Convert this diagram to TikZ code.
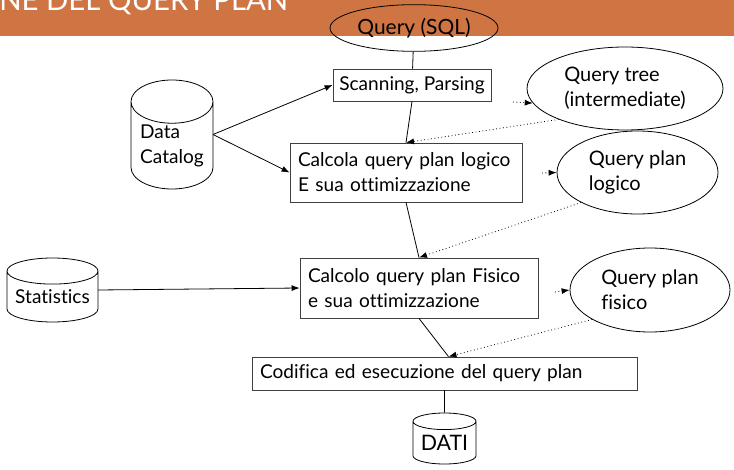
\documentclass[tikz,border=0pt]{standalone}
\usepackage{fontspec}
\setmainfont[Ligatures=NoCommon]{Lato}
\usepackage{tikz}
\usetikzlibrary{shapes.geometric}
\usetikzlibrary{arrows.meta}
\definecolor{bandcolor}{RGB}{207,116,67}
\definecolor{boxline}{RGB}{64,64,64}
\tikzset{stage/.style={draw=boxline,line width=0.6pt,inner xsep=6pt,inner ysep=0pt,minimum height=24pt,align=left},
         result/.style={draw,ellipse,line width=0.6pt,align=left,inner sep=0pt,font=\fontsize{15}{18.75}\selectfont},
         store/.style={draw,cylinder,shape border rotate=90,line width=0.6pt,inner sep=0pt,align=left},
         flow/.style={line width=0.6pt},
         feed/.style={line width=0.6pt,-{Latex[length=6pt,width=4.5pt]}},
         back/.style={dotted,line width=0.6pt,-{Latex[length=6pt,width=4.5pt]}}}

\begin{document}
\begin{tikzpicture}[x=0.75pt,y=-0.75pt,font=\fontsize{14.3}{18.75}\selectfont]
\useasboundingbox (0,0) rectangle (734,470);
\fill[bandcolor] (0,0) rectangle (734,36);
\begin{scope}
\clip (0,0) rectangle (734,470);
\node[anchor=base west,inner sep=0pt,text=white,font=\fontsize{22}{26}\selectfont] (title) at (-1,10.5) {NE DEL QUERY PLAN};
\end{scope}
\node[result,minimum width=126pt,minimum height=35pt,font=\fontsize{15.7}{18.75}\selectfont] (sql) at (414,28) {Query (SQL)};
\node[stage,minimum width=118.5pt,inner xsep=0pt] (scan) at (412,85) {Scanning, Parsing};
\node[stage,text width=162pt,minimum height=44.25pt] (logic) at (406,172.5) {Calcola query plan logico\\E sua ottimizzazione};
\node[stage,text width=166.5pt,minimum height=45pt] (phys) at (419,288) {Calcolo query plan Fisico\\e sua ottimizzazione};
\node[stage,text width=276.75pt,minimum height=24.75pt] (exec) at (444.5,373.5) {Codifica ed esecuzione del query plan};
\node[result,minimum width=147pt,minimum height=62.25pt] (tree) at (625,88.5) {Query tree\\(intermediate)};
\node[result,minimum width=120.75pt,minimum height=62.25pt] (lplan) at (637.5,172.5) {Query plan\\logico};
\node[result,minimum width=120pt,minimum height=63pt] (pplan) at (650,290) {Query plan\\fisico};
\node[store,aspect=0.68,minimum width=61.5pt,minimum height=81.75pt,anchor=shape center] (catalog) at (172,134.5) {Data\\Catalog};
\node[store,aspect=0.35,minimum width=68.25pt,minimum height=48pt,anchor=shape center] (stats) at (52.5,290) {Statistics};
\node[store,aspect=0.35,minimum width=47.25pt,minimum height=38.25pt,anchor=shape center,font=\fontsize{16}{18.75}\selectfont] (dati) at (444.5,438.5) {DATI};
\draw[flow] (sql) -- (scan);
\draw[flow] (scan.south) -- (logic.north);
\draw[flow] (logic.south) -- (phys.north);
\draw[flow] (phys.south) -- ([xshift=3pt]exec.north);
\draw[flow] (exec) -- (dati);
\draw[feed] ([xshift=30.75pt]catalog.shape center) -- (scan.west);
\draw[feed] ([xshift=30.75pt]catalog.shape center) -- (logic.west);
\draw[feed] ([xshift=34.125pt]stats.shape center) -- (phys.west);
\coordinate (treein) at (513,102);
\coordinate (lplanin) at (542,173);
\coordinate (pplanin) at (555,292);
\draw[back] (treein) -- (tree.189);
\draw[back] (tree.205) -- (logic.north);
\draw[back] (lplanin) -- (lplan.west);
\draw[back] (lplan.208) -- (phys.north);
\draw[back] (pplanin) -- (pplan.west);
\draw[back] (pplan.207) -- ([xshift=3pt]exec.north);
\end{tikzpicture}
\end{document}
